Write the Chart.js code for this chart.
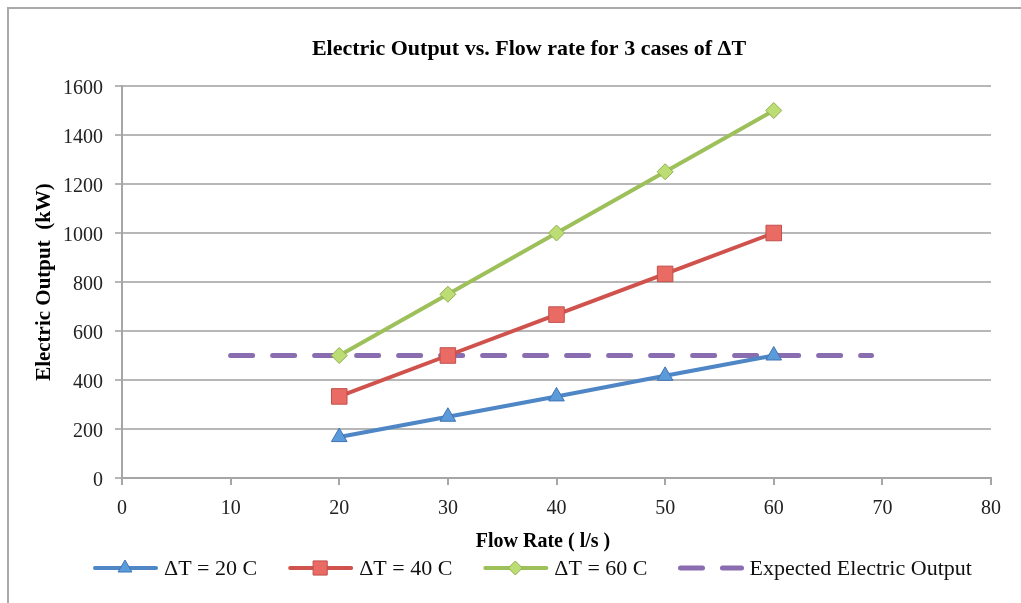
<!DOCTYPE html>
<html>
<head>
<meta charset="utf-8">
<script src="https://cdn.jsdelivr.net/npm/chart.js@4"></script>
<style>
  html, body { margin: 0; padding: 0; background: #fff; }
  #wrap { position: relative; width: 1021px; height: 603px; overflow: hidden; }
  #frame { position: absolute; left: 7px; top: 7px; width: 1100px; height: 700px;
           border-left: 2px solid #a9a9a9; border-top: 2px solid #a9a9a9; }
  #chart { position: absolute; left: 0; top: 0; }
</style>
</head>
<body>
<div id="wrap">
  <div id="frame"></div>
  <canvas id="chart" width="1021" height="603"></canvas>
</div>
<script>
const SERIF = "'Liberation Serif', 'Times New Roman', serif";

// values
const flowRate = [20, 30, 40, 50, 60];
const outDT20 = [167, 250, 333, 417, 500];
const outDT40 = [333, 500, 667, 833, 1000];
const outDT60 = [500, 750, 1000, 1250, 1500];
const expectedX = [10, 69];
const expectedY = [500, 500];

const xTicks = [0, 10, 20, 30, 40, 50, 60, 70, 80];
const yTicks = [0, 200, 400, 600, 800, 1000, 1200, 1400, 1600];

const seriesNames = ['\u0394T = 20 C', '\u0394T = 40 C', '\u0394T = 60 C', 'Expected Electric Output'];
const chartTitle = 'Electric Output vs. Flow rate for 3 cases of \u0394T';
const xTitle = 'Flow Rate ( l/s )';
const yTitle = 'Electric Output  (kW)';

const pts = (xs, ys) => xs.map((x, i) => ({ x, y: ys[i] }));

// title and x-axis title sit a bit off the plot centre in the original, so draw them here
const offsetTitles = {
  id: 'offsetTitles',
  afterDraw(chart) {
    const ctx = chart.ctx;
    ctx.save();
    ctx.fillStyle = '#000';
    ctx.textAlign = 'center';
    ctx.textBaseline = 'middle';
    ctx.font = 'bold 22px ' + SERIF;
    ctx.fillText(chartTitle, 529, 49);
    ctx.font = 'bold 20px ' + SERIF;
    ctx.fillText(xTitle, 543, 542);
    ctx.restore();
  }
};

// legend drawn under the axis title: line + marker, then label
const bottomLegend = {
  id: 'bottomLegend',
  afterDraw(chart) {
    const ctx = chart.ctx;
    const y = 568;
    let x = 93;
    ctx.save();
    ctx.font = '22px ' + SERIF;
    ctx.textBaseline = 'middle';
    chart.data.datasets.forEach(ds => {
      ctx.save();
      ctx.strokeStyle = ds.borderColor;
      ctx.lineWidth = ds.borderWidth;
      ctx.lineCap = 'round';
      if (ds.borderDash) ctx.setLineDash(ds.borderDash);
      ctx.beginPath();
      ctx.moveTo(x + 2, y);
      ctx.lineTo(x + 63, y);
      ctx.stroke();
      ctx.restore();
      if (ds.pointRadius > 0) {
        ctx.save();
        ctx.fillStyle = ds.pointBackgroundColor;
        ctx.strokeStyle = ds.pointBorderColor;
        ctx.lineWidth = 1;
        Chart.helpers.drawPoint(ctx, { pointStyle: ds.pointStyle, radius: ds.pointRadius - 1, rotation: 0, borderWidth: 1 }, x + 32, y);
        ctx.restore();
      }
      ctx.fillStyle = '#111';
      ctx.fillText(ds.label, x + 71, y + 1);
      x += 71 + ctx.measureText(ds.label).width + 31;
    });
    ctx.restore();
  }
};

new Chart(document.getElementById('chart'), {
  type: 'line',
  data: {
    datasets: [
      {
        label: seriesNames[0],
        data: pts(flowRate, outDT20),
        borderColor: '#4f86c6', borderWidth: 4,
        pointStyle: 'triangle', pointRadius: 9,
        pointBackgroundColor: '#5b9bd9', pointBorderColor: '#3f74b4', pointBorderWidth: 1
      },
      {
        label: seriesNames[1],
        data: pts(flowRate, outDT40),
        borderColor: '#cf524d', borderWidth: 4,
        pointStyle: 'rect', pointRadius: 11,
        pointBackgroundColor: '#ea6b64', pointBorderColor: '#c0504d', pointBorderWidth: 1
      },
      {
        label: seriesNames[2],
        data: pts(flowRate, outDT60),
        borderColor: '#9dc05a', borderWidth: 4,
        pointStyle: 'rectRot', pointRadius: 8,
        pointBackgroundColor: '#bcdc74', pointBorderColor: '#8fb04e', pointBorderWidth: 1
      },
      {
        label: seriesNames[3],
        data: pts(expectedX, expectedY),
        borderColor: '#8a6cb0', borderWidth: 5,
        borderDash: [22, 20], borderCapStyle: 'round',
        pointRadius: 0
      }
    ]
  },
  options: {
    responsive: false,
    devicePixelRatio: 1,
    animation: false,
    events: [],
    layout: { padding: { left: 16, right: 30, top: 86, bottom: 50 } },
    plugins: {
      legend: { display: false },
      tooltip: { enabled: false },
      title: { display: false }
    },
    scales: {
      x: {
        type: 'linear', min: 0, max: 80,
        afterFit(s) { s.height = 75; },
        afterBuildTicks(s) { s.ticks = xTicks.map(v => ({ value: v })); },
        grid: { drawOnChartArea: false, drawTicks: true, tickLength: 7, color: '#a6a6a6', lineWidth: 2 },
        border: { display: true, color: '#a6a6a6', width: 2 },
        ticks: { color: '#222', padding: 12, font: { family: SERIF, size: 20 } },
        title: { display: false }
      },
      y: {
        type: 'linear', min: 0, max: 1600,
        afterFit(s) { s.width = 106; },
        afterBuildTicks(s) { s.ticks = yTicks.map(v => ({ value: v })); },
        grid: { drawTicks: true, tickLength: 7, color: '#b7b7b7', lineWidth: 2 },
        border: { display: true, color: '#a6a6a6', width: 2 },
        ticks: { color: '#222', padding: 12, labelOffset: 3, font: { family: SERIF, size: 20 },
                 callback: v => String(v) },
        title: {
          display: true, text: yTitle, color: '#000',
          font: { family: SERIF, size: 21, weight: 'bold', lineHeight: 1.2 },
          padding: { top: 16, bottom: 0 }
        }
      }
    }
  },
  plugins: [offsetTitles, bottomLegend]
});
</script>
</body>
</html>
